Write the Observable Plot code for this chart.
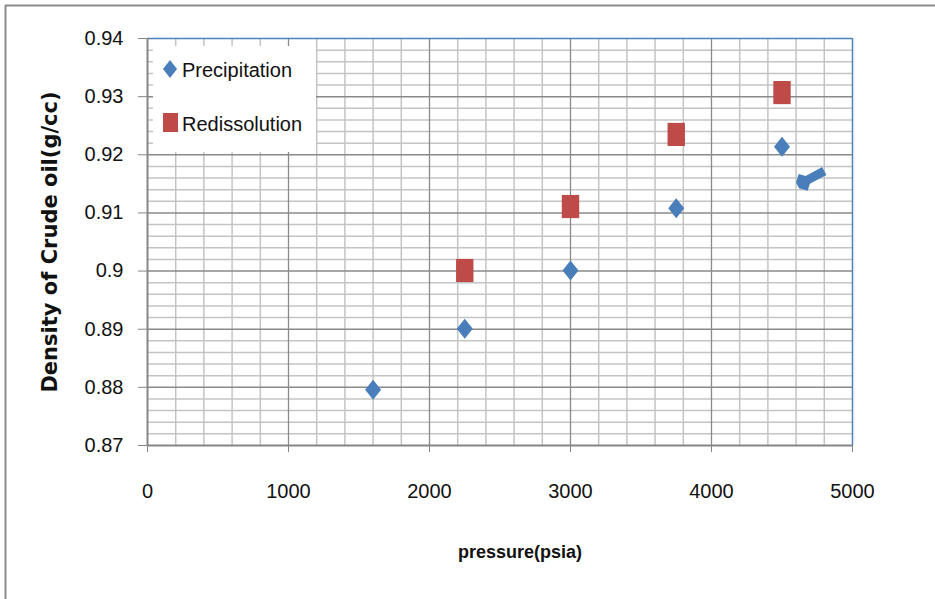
<!DOCTYPE html>
<html><head><meta charset="utf-8">
<script src="https://cdn.jsdelivr.net/npm/d3@7"></script>
<script src="https://cdn.jsdelivr.net/npm/@observablehq/plot@0.6"></script>
<style>body{margin:0;background:#fff} svg{display:block}</style>
</head><body><div id="chart"></div>
<script>
// Data
const precipPressure = [1600, 2250, 3000, 3750, 4500];
const precipDensity  = [0.8796, 0.8901, 0.9001, 0.9108, 0.9214];
const rediPressure   = [2250, 3000, 3750, 4500];
const rediDensity    = [0.9001, 0.9111, 0.9235, 0.9307];
const arrowPressure  = [4800, 4630];   // tail, head
const arrowDensity   = [0.9172, 0.9150];
const seriesNames    = ["Precipitation", "Redissolution"];
const xTicks = [0, 1000, 2000, 3000, 4000, 5000];
const yTicks = [0.87, 0.88, 0.89, 0.9, 0.91, 0.92, 0.93, 0.94];
const yTickLabels = ["0.87", "0.88", "0.89", "0.9", "0.91", "0.92", "0.93", "0.94"];
const xTitle = "pressure(psia)";
const yTitle = "Density of Crude oil(g/cc)";

const BLUE = "#4a7ebb", RED = "#be4b48";

const precip = precipPressure.map((p, i) => ({pressure: p, density: precipDensity[i]}));
const redi = rediPressure.map((p, i) => ({pressure: p, density: rediDensity[i]}));
const arrows = [{x1: arrowPressure[0], y1: arrowDensity[0], x2: arrowPressure[1], y2: arrowDensity[1]}];

const xMinor = d3.range(0, 5001, 200).filter(v => v % 1000 !== 0);
const yMinor = d3.range(0, 36).map(i => +(0.87 + i * 0.002).toFixed(3)).filter((v, i) => i % 5 !== 0);

const diamond = {draw(ctx, size) { const r = Math.sqrt(size / Math.PI);
  ctx.moveTo(0, -r * 1.25); ctx.lineTo(r, 0); ctx.lineTo(0, r * 1.25); ctx.lineTo(-r, 0); ctx.closePath(); }};
const rectSym = {draw(ctx, size) { const r = Math.sqrt(size / Math.PI);
  ctx.rect(-r, -r * 1.33, 2 * r, 2 * r * 1.33); }};

const svg = Plot.plot({
  width: 935, height: 599,
  marginTop: 38, marginRight: 83, marginBottom: 154, marginLeft: 147,
  style: {fontFamily: "Liberation Sans", background: "white"},
  x: {domain: [0, 5000]},
  y: {domain: [0.87, 0.94]},
  marks: [
    Plot.ruleX(xMinor, {stroke: "#c4c4c4", strokeWidth: 1.5}),
    Plot.ruleY(yMinor, {stroke: "#c4c4c4", strokeWidth: 1.5}),
    Plot.ruleX(xTicks.slice(1, -1), {stroke: "#8a8a8a", strokeWidth: 1.3}),
    Plot.ruleY(yTicks.slice(1, -1), {stroke: "#8a8a8a", strokeWidth: 1.5}),
    Plot.ruleX([5000], {stroke: "#4f81bd", strokeWidth: 1.5}),
    Plot.ruleY([0.94], {stroke: "#4f81bd", strokeWidth: 1.5}),
    Plot.ruleX([0], {stroke: "#868686", strokeWidth: 2}),
    Plot.ruleY([0.87], {stroke: "#868686", strokeWidth: 2}),
    Plot.axisY({ticks: yTicks, tickSize: 9, tickPadding: 15, fontSize: 20, stroke: "#868686", fill: "#111",
      tickFormat: d => yTickLabels[yTicks.indexOf(d)], label: null}),
    Plot.axisX({ticks: xTicks, tickSize: 7, tickPadding: 31, fontSize: 20, stroke: "#868686", fill: "#111",
      tickFormat: d => String(d), label: null}),
    Plot.text([yTitle], {frameAnchor: "left", textAnchor: "middle", dx: -97, rotate: -90, fontWeight: "bold",
      fontSize: 21, fontFamily: "DejaVu Sans", fill: "#111"}),
    Plot.text([xTitle], {frameAnchor: "bottom", textAnchor: "middle", dx: 20, dy: 112, fontWeight: "bold",
      fontSize: 18, fill: "#111"}),
    Plot.dot(redi, {x: "pressure", y: "density", symbol: rectSym, r: 8.7, fill: RED, stroke: null}),
    Plot.dot(precip, {x: "pressure", y: "density", symbol: diamond, r: 8, fill: BLUE, stroke: null}),
    Plot.arrow(arrows, {x1: "x1", y1: "y1", x2: "x2", y2: "y2", stroke: BLUE, strokeWidth: 9, headLength: 12,
      headAngle: 90, strokeLinecap: "butt"})
  ]
});

// Legend (white box inside the plot area)
const g = d3.select(svg).append("g").attr("font-family", "Liberation Sans").attr("text-anchor", "start");
g.append("rect").attr("x", 153).attr("y", 46).attr("width", 163).attr("height", 106).attr("fill", "white");
g.append("path").attr("transform", "translate(170,69)")
  .attr("d", "M0,-9L7,0L0,9L-7,0Z").attr("fill", BLUE);
g.append("rect").attr("x", 163).attr("y", 113).attr("width", 15).attr("height", 19).attr("fill", RED);
g.append("text").attr("x", 182).attr("y", 77).attr("font-size", 20).attr("fill", "#111").text(seriesNames[0]);
g.append("text").attr("x", 182).attr("y", 131).attr("font-size", 20).attr("fill", "#111").text(seriesNames[1]);

// Outer chart border (left and top only visible)
d3.select(svg).append("line").attr("x1", 5).attr("x2", 935).attr("y1", 5.5).attr("y2", 5.5).attr("stroke", "#8c8c8c").attr("stroke-width", 2);
d3.select(svg).append("line").attr("x1", 5.5).attr("x2", 5.5).attr("y1", 5).attr("y2", 599).attr("stroke", "#8c8c8c").attr("stroke-width", 2);

document.getElementById("chart").appendChild(svg);
</script>
</body></html>
